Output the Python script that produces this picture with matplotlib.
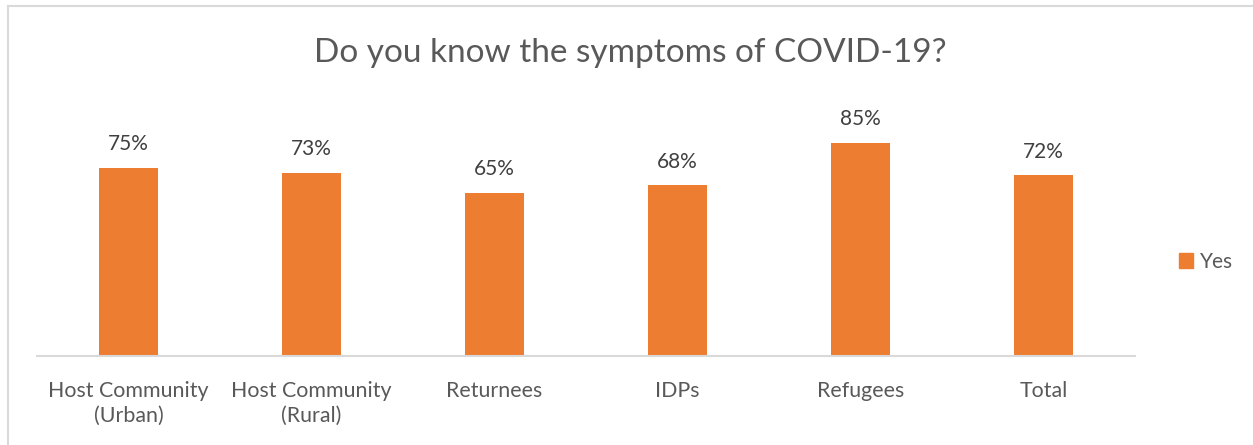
import matplotlib
matplotlib.use("Agg")
import matplotlib.pyplot as plt
from matplotlib.patches import Patch

# ── Data ──────────────────────────────────────────────────────────
categories = ["Host Community\n(Urban)", "Host Community\n(Rural)",
              "Returnees", "IDPs", "Refugees", "Total"]
yes_share  = [0.75, 0.73, 0.65, 0.68, 0.85, 0.72]
labels     = ["75%", "73%", "65%", "68%", "85%", "72%"]

ORANGE = "#ED7D31"
GREY_T = "#595959"
GREY_L = "#404040"

plt.rcParams["font.family"] = ["Lato", "DejaVu Sans"]

W, H = 1253, 445
fig = plt.figure(figsize=(W / 100, H / 100), dpi=100)

# outer chart border (only left/top visible in the crop)
fig.add_artist(plt.Line2D([8 / W, 8 / W], [0, 1 - 6 / H], color="#D9D9D9", lw=1.5))
fig.add_artist(plt.Line2D([8 / W, 1], [1 - 6 / H, 1 - 6 / H], color="#D9D9D9", lw=1.5))

ax = fig.add_axes([37 / W, 1 - 356 / H, (1135 - 37) / W, (356 - 105) / H])
x = range(len(categories))
bars = ax.bar(x, yes_share, width=0.317, color=ORANGE, label="Yes")

ax.set_xlim(-0.5, len(categories) - 0.5)
ax.set_ylim(0, 1)
ax.set_yticks([])
for s in ["top", "right", "left"]:
    ax.spines[s].set_visible(False)
ax.spines["bottom"].set_color("#D9D9D9")
ax.spines["bottom"].set_linewidth(1.5)

ax.set_xticks(list(x))
ax.set_xticklabels(categories, fontsize=15.4, color=GREY_T, linespacing=1.3)
ax.tick_params(axis="x", length=0, pad=18)

for b, lab in zip(bars, labels):
    ax.annotate(lab, (b.get_x() + b.get_width() / 2, b.get_height()),
                xytext=(0, 17), textcoords="offset points",
                ha="center", va="center", fontsize=15, color=GREY_L)

fig.text(630 / W, 1 - 53 / H, "Do you know the symptoms of COVID-19?",
         ha="center", va="center", fontsize=24, color=GREY_T)

fig.legend(handles=[Patch(color=ORANGE, label="Yes")], loc="center left",
           bbox_to_anchor=(1160 / W, 1 - 262 / H), frameon=False,
           fontsize=15, handlelength=0.7, handleheight=0.7, handletextpad=0.3,
           labelcolor=GREY_T)

fig.savefig("out.png", dpi=100, facecolor="white")
